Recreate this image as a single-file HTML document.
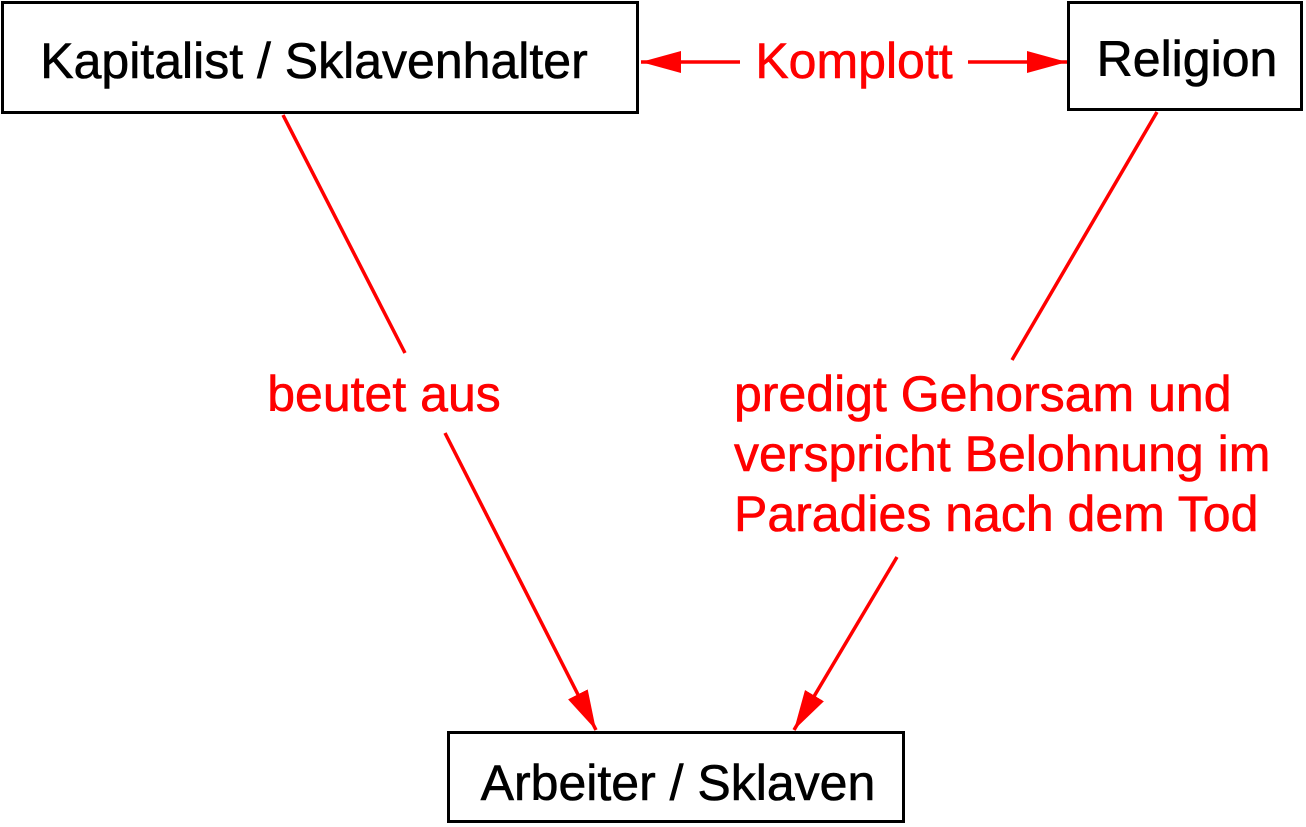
<!DOCTYPE html>
<html><head><meta charset="utf-8"><style>
body{margin:0;background:#fff;width:1306px;height:827px;overflow:hidden}
svg{display:block}
text{font-family:"Liberation Sans",Arial,sans-serif;font-size:50px;stroke-width:0.6}
</style></head><body>
<svg width="1306" height="827" viewBox="0 0 1306 827">
<defs>
<marker id="a" viewBox="0 0 40 22" refX="40" refY="11" markerWidth="40" markerHeight="22" markerUnits="userSpaceOnUse" orient="auto"><path d="M0,0 L40,11 L0,22 z" fill="#f00"/></marker>
</defs>
<rect x="2.5" y="2.5" width="635" height="110" fill="#fff" stroke="#000" stroke-width="3"/>
<rect x="1068.5" y="2.5" width="233" height="107" fill="#fff" stroke="#000" stroke-width="3"/>
<rect x="448.5" y="732.5" width="455" height="89" fill="#fff" stroke="#000" stroke-width="3"/>
<text x="314" y="78" text-anchor="middle" stroke="#000">Kapitalist / Sklavenhalter</text>
<text x="1187" y="76" text-anchor="middle" stroke="#000">Religion</text>
<text x="678" y="800" text-anchor="middle" stroke="#000">Arbeiter / Sklaven</text>
<g stroke="#f00" stroke-width="3.5" fill="none">
<line x1="740" y1="62" x2="641" y2="62" marker-end="url(#a)"/>
<line x1="968" y1="62" x2="1067" y2="62" marker-end="url(#a)"/>
<line x1="283" y1="115" x2="405" y2="353"/>
<line x1="445" y1="433" x2="596" y2="730" marker-end="url(#a)"/>
<line x1="1157" y1="112" x2="1012" y2="360"/>
<line x1="897" y1="557" x2="794" y2="730" marker-end="url(#a)"/>
</g>
<g fill="#f00" stroke="#f00">
<text x="854" y="78" text-anchor="middle">Komplott</text>
<text x="384" y="411" text-anchor="middle">beutet aus</text>
<text x="734" y="411">predigt Gehorsam und</text>
<text x="734" y="471">verspricht Belohnung im</text>
<text x="734" y="531">Paradies nach dem Tod</text>
</g>
</svg>
</body></html>
